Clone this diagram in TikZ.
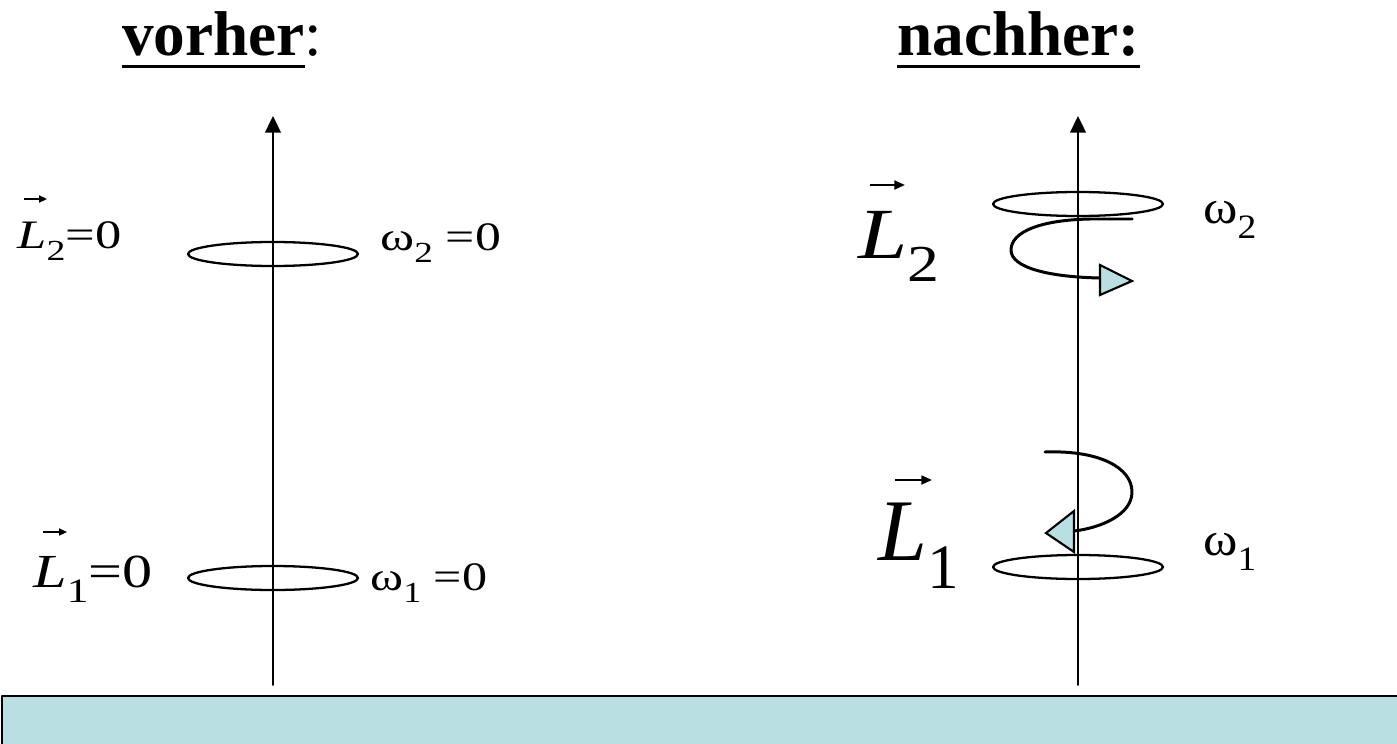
\documentclass[tikz,border=0pt]{standalone}
\usepackage{fontspec}
\setmainfont{Liberation Serif}
\usetikzlibrary{arrows.meta}
\definecolor{disc}{RGB}{186,223,226}
\newcommand\lowsub[1]{\raisebox{-0.32em}{\scalebox{0.72}{#1}}}
\newcommand\wide[2]{\scalebox{#1}[1]{#2}}
\newcommand\thickul[1]{\setbox0\hbox{#1}\rlap{\rule[-0.2em]{\wd0}{1.7pt}}\box0}
\tikzset{
  axis/.style={line width=1.1pt,-{Triangle[width=9pt,length=9.5pt]}},
  ring/.style={line width=1.3pt},
  spin/.style={line width=1.7pt},
  tri/.style={line width=1.2pt,fill=disc,line join=miter},
  lab/.style={anchor=base west,inner sep=0pt},
  vecs/.style={line width=1pt,line cap=butt,-{Triangle[length=4.5pt,width=4pt]}},
  vecb/.style={line width=1.3pt,line cap=butt,-{Triangle[length=6pt,width=5pt]}}
}
\begin{document}
\begin{tikzpicture}[x=0.02cm,y=-0.02cm,line cap=round,line join=round]
\useasboundingbox (0,0) rectangle (1397,744);

% Achsen
\coordinate (LB) at (273,685);
\coordinate (LT) at (273,116);
\coordinate (RB) at (1078,685);
\coordinate (RT) at (1078,116);
\draw[axis] (LB)--(LT);
\draw[axis] (RB)--(RT);

% Scheiben
\draw[ring] (273,254) ellipse [x radius=85,y radius=12];
\draw[ring] (273,578) ellipse [x radius=85,y radius=12];
\draw[ring] (1078,204) ellipse [x radius=85,y radius=12];
\draw[ring] (1078,567) ellipse [x radius=85,y radius=12];

% Drehsinn oben
\coordinate (S2a) at (1132,219);
\coordinate (S2b) at (1011,250);
\coordinate (S2c) at (1100,278);
\draw[spin] (S2a)--(1090,219) .. controls (1040,220) and (1011,232) .. (S2b)
  .. controls (1011,268) and (1050,277) .. (S2c);
\draw[tri] (1100,265)--(1132,281)--(1100,295)--cycle;

% Drehsinn unten
\coordinate (S1a) at (1045,452);
\coordinate (S1b) at (1132,492);
\coordinate (S1c) at (1074,531);
\draw[spin] (S1a) .. controls (1100,450) and (1132,468) .. (S1b)
  .. controls (1132,515) and (1100,528) .. (S1c);
\draw[tri] (1074,511)--(1046,533)--(1074,552)--cycle;

% Boden
\fill[disc] (2,696) rectangle (1397,744);
\draw[line width=1.4pt,line cap=butt] (1397,696) -- (2,696) -- (2,744);

% Beschriftung
\node[lab,font=\fontsize{36}{40}\selectfont] (vorher) at (122,55) {\thickul{\textbf{vorher}}:};
\node[lab,anchor=base east,font=\fontsize{36}{40}\selectfont] (nachher) at (1140,55) {\thickul{\textbf{nachher:}}};

\node[lab,font=\fontsize{23}{28}\selectfont] (L2v) at (17,248) {\wide{1.3}{\textit{L}\lowsub{2}=0}};
\node[lab,font=\fontsize{23}{28}\selectfont] (w2v) at (380,250) {\wide{1.28}{ω\lowsub{2} =0}};
\node[lab,font=\fontsize{27}{32}\selectfont] (L1v) at (33,587) {\wide{1.27}{\textit{L}\lowsub{1}=0}};
\node[lab,font=\fontsize{23}{28}\selectfont] (w1v) at (370,590) {\wide{1.24}{ω\lowsub{1} =0}};

\node[lab,font=\fontsize{41}{48}\selectfont] (L2n) at (858,258) {\wide{1.23}{\textit{L}\lowsub{2}}};
\node[lab,font=\fontsize{27}{32}\selectfont] (w2n) at (1203,223) {\wide{1.1}{ω\lowsub{2}}};
\node[lab,font=\fontsize{50}{58}\selectfont] (L1n) at (878,560) {\textit{L}\lowsub{1}};
\node[lab,font=\fontsize{27}{32}\selectfont] (w1n) at (1203,555) {\wide{1.1}{ω\lowsub{1}}};

% Vektorpfeile
\draw[vecs] ([shift={(7,-49)}]L2v.base west) -- ++(23,0);
\draw[vecs] ([shift={(10,-55)}]L1v.base west) -- ++(24,0);
\draw[vecb] ([shift={(12,-73)}]L2n.base west) -- ++(35,0);
\draw[vecb] ([shift={(17,-80)}]L1n.base west) -- ++(37,0);
\end{tikzpicture}
\end{document}
